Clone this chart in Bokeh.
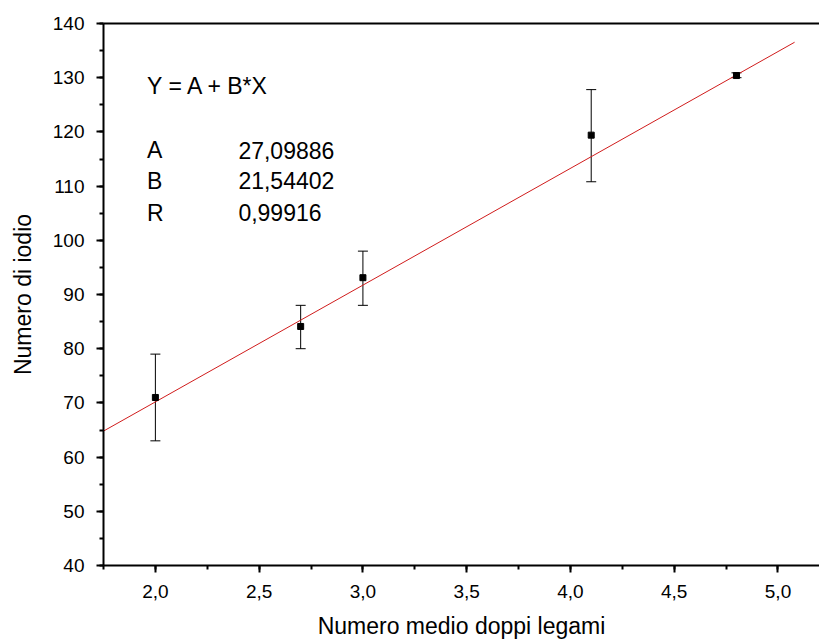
from bokeh.plotting import figure
from bokeh.models import (Range1d, SingleIntervalTicker, CustomJSTickFormatter, Whisker,
                          ColumnDataSource, Label, LinearAxis, TeeHead, FixedTicker)
from bokeh.embed import file_html
from bokeh.resources import INLINE

# ---- data ----
x_vals = [2.0, 2.7, 3.0, 4.1, 4.8]
y_vals = [71.0, 84.1, 93.1, 119.4, 130.4]
y_lower = [63.0, 80.0, 88.0, 110.8, 130.0]
y_upper = [79.0, 88.0, 98.0, 127.8, 130.9]
fit_A = 27.09886
fit_B = 21.54402
fit_R = 0.99916
fit_x = [1.75, 5.08]
fit_y = [fit_A + fit_B * v for v in fit_x]

x_title = "Numero medio doppi legami"
y_title = "Numero di iodio"
eq_text = "Y = A + B*X"
param_names = ["A", "B", "R"]
param_values = [fit_A, fit_B, fit_R]

FONT = "Liberation Sans"

p = figure(width=819, height=644, output_backend="svg", toolbar_location=None,
           x_range=Range1d(1.75, 5.2), y_range=Range1d(40, 140),
           min_border_left=103, min_border_right=0, min_border_top=23, min_border_bottom=79)
p.outline_line_color = None
p.xgrid.visible = False
p.ygrid.visible = False
p.background_fill_color = "white"
p.border_fill_color = "white"

# fit line
p.line(fit_x, fit_y, line_color="#d01c1c", line_width=1)

# error bars
src = ColumnDataSource(dict(x=x_vals, y=y_vals, lower=y_lower, upper=y_upper))
wh = Whisker(source=src, base="x", lower="lower", upper="upper", line_color="black", line_width=1,
             upper_head=TeeHead(size=10, line_color="black", line_width=1),
             lower_head=TeeHead(size=10, line_color="black", line_width=1))
p.add_layout(wh)
p.scatter("x", "y", source=src, marker="square", size=6, color="black")

fmt = CustomJSTickFormatter(code="return tick.toFixed(1).replace('.', ',');")

xa = p.xaxis[0]
xa.ticker = SingleIntervalTicker(interval=0.5, num_minor_ticks=2)
xa.formatter = fmt
ya = p.yaxis[0]
ya.ticker = SingleIntervalTicker(interval=10, num_minor_ticks=2)

for ax in (xa, ya):
    ax.axis_line_width = 2
    ax.axis_line_color = "black"
    ax.major_tick_line_width = 2
    ax.minor_tick_line_width = 2
    ax.major_tick_line_color = "black"
    ax.minor_tick_line_color = "black"
    ax.major_tick_in = 0
    ax.minor_tick_in = 0
    ax.major_tick_out = 7
    ax.minor_tick_out = 4
    ax.major_label_text_font = FONT
    ax.major_label_text_font_size = "19px"
    ax.major_label_text_color = "black"
    ax.axis_label_text_font = FONT
    ax.axis_label_text_font_size = "23px"
    ax.axis_label_text_font_style = "normal"
    ax.axis_label_text_color = "black"
    ax.major_label_standoff = 12

xa.axis_label = x_title
ya.axis_label = y_title
xa.axis_label_standoff = 12
ya.axis_label_standoff = 14

top = LinearAxis(ticker=FixedTicker(ticks=[]), axis_line_width=2, axis_line_color="black",
                 major_tick_line_color=None, minor_tick_line_color=None, major_label_standoff=0)
p.add_layout(top, "above")

# annotation
p.add_layout(Label(x=1.96, y=128.5, text=eq_text, text_font=FONT, text_font_size="23px",
                   text_color="black", text_baseline="alphabetic"))
param_y = [116.6, 111.0, 105.1]
for name, val, yy in zip(param_names, param_values, param_y):
    p.add_layout(Label(x=1.96, y=yy, text=name, text_font=FONT, text_font_size="23px",
                       text_color="black", text_baseline="alphabetic"))
    p.add_layout(Label(x=2.40, y=yy, text=f"{val:.5f}".replace('.', ','), text_font=FONT,
                       text_font_size="23px", text_color="black", text_baseline="alphabetic"))

open("out.html", "w").write(file_html(p, INLINE))
